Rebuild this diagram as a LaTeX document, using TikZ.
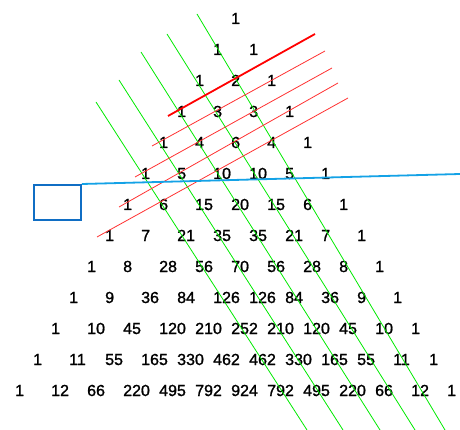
\documentclass[tikz,border=0pt]{standalone}
\usepackage{fontspec}
\setmainfont{Liberation Sans}
\newfontfamily\numfont{Liberation Sans}[FakeBold=1.2]
\definecolor{boxblue}{RGB}{16,110,196}
\definecolor{lineblue}{RGB}{20,162,230}
\definecolor{gline}{RGB}{0,235,0}
\definecolor{rline}{RGB}{255,50,50}
\begin{document}
\begin{tikzpicture}[x=1pt,y=-1pt,
  num/.style={anchor=base west,inner sep=0pt,font=\numfont\fontsize{16}{18}\selectfont},
  greenline/.style={draw=gline,line width=0.8pt},
  redthin/.style={draw=rline,line width=0.8pt},
  redthick/.style={draw=red,line width=1.8pt},
  blueline/.style={draw=lineblue,line width=1.8pt},
  bluebox/.style={draw=boxblue,line width=2pt,minimum width=47pt,minimum height=35pt,inner sep=0pt}]
\useasboundingbox (0,0) rectangle (460,430);
\fill[white] (0,0) rectangle (460,430);
% Pascal triangle
\foreach \n/\row in {0/{1},1/{1,1},2/{1,2,1},3/{1,3,3,1},4/{1,4,6,4,1},
  5/{1,5,10,10,5,1},6/{1,6,15,20,15,6,1},7/{1,7,21,35,35,21,7,1},
  8/{1,8,28,56,70,56,28,8,1},9/{1,9,36,84,126,126,84,36,9,1},
  10/{1,10,45,120,210,252,210,120,45,10,1},
  11/{1,11,55,165,330,462,462,330,165,55,11,1},
  12/{1,12,66,220,495,792,924,792,495,220,66,12,1}}{
  \foreach \v [count=\k from 0] in \row {
    \node[num] (n\n-\k) at ({231+(\k-\n/2)*36},{24+31*\n}) {\v};
  }
}
% green diagonals
\coordinate (g1s) at (197,14);  \coordinate (g1e) at (445,430);
\coordinate (g2s) at (167,34);  \coordinate (g2e) at (415,430);
\coordinate (g3s) at (141,52);  \coordinate (g3e) at (380,430);
\coordinate (g4s) at (119,80);  \coordinate (g4e) at (343,430);
\coordinate (g5s) at (96,102);  \coordinate (g5e) at (307,430);
\foreach \i in {1,...,5} { \draw[greenline] (g\i s) -- (g\i e); }
% red diagonals
\coordinate (r0s) at (168,116); \coordinate (r0e) at (315,34);
\coordinate (r1s) at (152,146); \coordinate (r1e) at (325,51);
\coordinate (r2s) at (135,177); \coordinate (r2e) at (332,68);
\coordinate (r3s) at (119,207); \coordinate (r3e) at (338,83);
\coordinate (r4s) at (97,237);  \coordinate (r4e) at (348,98);
\foreach \i in {1,...,4} { \draw[redthin] (r\i s) -- (r\i e); }
\draw[redthick] (r0s) -- (r0e);
% blue box and line
\node[bluebox] (box) at (57.5,202.5) {};
\coordinate (bend) at (460,174);
\draw[blueline] (box.north east) -- (bend);
\end{tikzpicture}
\end{document}
